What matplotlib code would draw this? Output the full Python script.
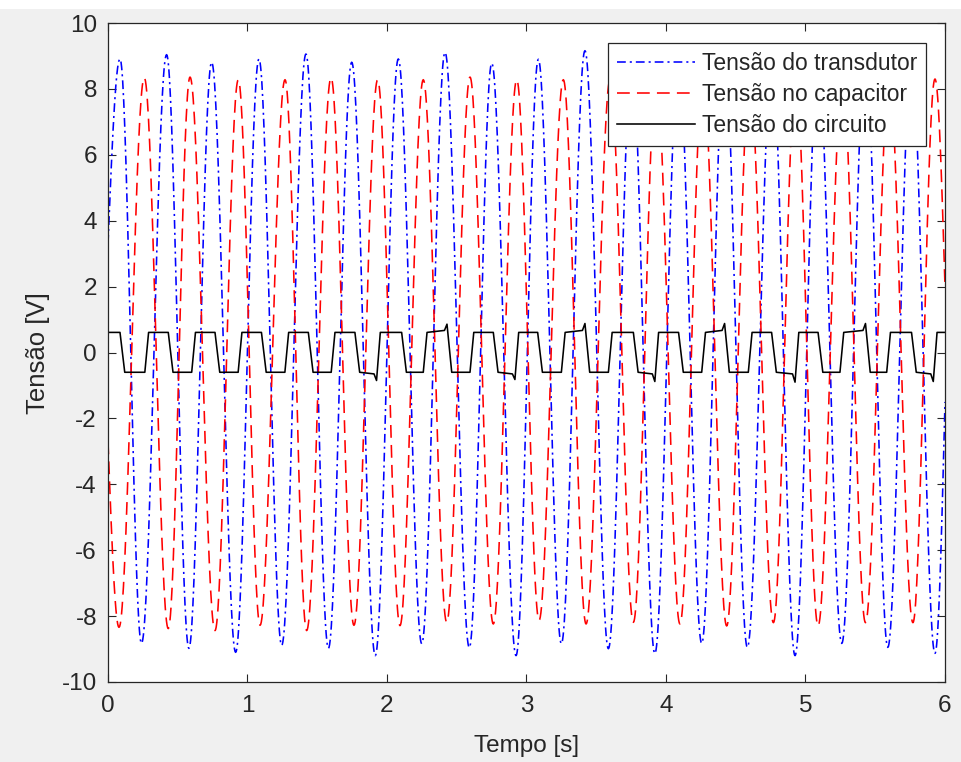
import numpy as np
import matplotlib
matplotlib.use("Agg")
import matplotlib.pyplot as plt
from matplotlib.patches import Rectangle

plt.rcParams['font.family'] = ['Liberation Sans', 'DejaVu Sans']
plt.rcParams['axes.unicode_minus'] = False

# ---------------- data ----------------
series_labels = ["Tensão do transdutor", "Tensão no capacitor", "Tensão do circuito"]

# Transducer voltage: start value, successive peaks/troughs, end value
blue_t = [0.0, 0.086, 0.240, 0.420, 0.580, 0.743, 0.915, 1.082, 1.245, 1.419,
          1.580, 1.747, 1.916, 2.081, 2.249, 2.416, 2.590, 2.751, 2.925, 3.085,
          3.250, 3.419, 3.587, 3.755, 3.920, 4.090, 4.256, 4.420, 4.583, 4.760,
          4.925, 5.090, 5.260, 5.430, 5.590, 5.760, 5.928, 6.0]
blue_v = [3.3, 8.91, -8.83, 9.04, -8.98, 8.81, -9.10, 8.91, -8.89, 9.06,
          -8.98, 8.81, -9.20, 8.91, -8.84, 9.11, -8.96, 8.78, -9.20, 8.90,
          -8.84, 9.16, -8.99, 8.85, -9.14, 8.90, -8.83, 9.10, -8.95, 8.85,
          -9.20, 8.90, -8.83, 9.10, -8.95, 8.85, -9.13, -1.5]

# Capacitor voltage: start value, successive troughs/peaks, end value
red_t = [0.0, 0.079, 0.260, 0.432, 0.588, 0.767, 0.934, 1.090, 1.269, 1.424,
         1.599, 1.763, 1.933, 2.093, 2.260, 2.428, 2.595, 2.762, 2.930, 3.090,
         3.264, 3.427, 3.600, 3.766, 3.930, 4.100, 4.265, 4.435, 4.600, 4.770,
         4.930, 5.090, 5.265, 5.430, 5.600, 5.770, 5.928, 6.0]
red_v = [-2.7, -8.34, 8.34, -8.38, 8.36, -8.44, 8.28, -8.28, 8.28, -8.44,
         8.34, -8.28, 8.28, -8.29, 8.28, -8.19, 8.36, -8.24, 8.28, -8.13,
         8.28, -8.24, 8.30, -8.19, 8.30, -8.24, 8.30, -8.30, 8.30, -8.20,
         8.30, -8.30, 8.30, -8.20, 8.30, -8.20, 8.30, 2.0]

# Circuit voltage: trapezoidal wave levels, edge times and spike values
black_high = 0.61
black_low = -0.60
black_fall_t = [0.086, 0.432, 0.767, 1.100, 1.436, 1.770, 2.105, 2.430, 2.762,
                3.080, 3.419, 3.766, 4.090, 4.420, 4.757, 5.090, 5.430, 5.760]
black_fall_v = [0.61, 0.61, 0.61, 0.61, 0.61, 0.61, 0.61, 0.86, 0.61,
                0.61, 0.88, 0.61, 0.61, 0.88, 0.61, 0.61, 0.88, 0.61]
black_rise_t = [0.264, 0.600, 0.933, 1.268, 1.600, 1.925, 2.260, 2.595, 2.917,
                3.250, 3.587, 3.920, 4.256, 4.590, 4.925, 5.247, 5.582, 5.916]
black_rise_v = [-0.60, -0.60, -0.60, -0.60, -0.60, -0.85, -0.60, -0.60, -0.82,
                -0.60, -0.60, -0.88, -0.60, -0.60, -0.90, -0.60, -0.60, -0.88]
black_t0, black_t1 = 0.0, 6.0

x_ticks = [0, 1, 2, 3, 4, 5, 6]
y_ticks = [-10, -8, -6, -4, -2, 0, 2, 4, 6, 8, 10]


def smooth_extrema(tk, vk, n=40):
    """Draw through the read extrema with half-cosine arcs."""
    ts, vs = [], []
    last = len(tk) - 2
    for i in range(len(tk) - 1):
        f = np.linspace(0, 1, n, endpoint=False)
        if i == 0:
            shape = np.sin(np.pi / 2 * f)
        elif i == last:
            shape = 1 - np.cos(np.pi / 2 * f)
        else:
            shape = (1 - np.cos(np.pi * f)) / 2
        ts.append(tk[i] + (tk[i + 1] - tk[i]) * f)
        vs.append(vk[i] + (vk[i + 1] - vk[i]) * shape)
    ts.append([tk[-1]])
    vs.append([vk[-1]])
    return np.concatenate(ts), np.concatenate(vs)


def black_vertices():
    pts = [(black_t0, black_high)]
    fall_dur, rise_dur = 0.034, 0.027
    for tf, vf, tr, vr in zip(black_fall_t, black_fall_v, black_rise_t, black_rise_v):
        if vf > black_high + 0.05:
            pts.append((tf - 0.018, black_high + 0.06))
        pts.append((tf, vf))
        pts.append((tf + fall_dur, black_low))
        if vr < black_low - 0.05:
            pts.append((tr - 0.018, black_low - 0.05))
        pts.append((tr, vr))
        pts.append((tr + rise_dur, black_high))
    pts.append((black_t1, black_high))
    t, v = zip(*pts)
    return np.array(t), np.array(v)


# ---------------- figure ----------------
W, H = 962, 762
fig = plt.figure(figsize=(W / 100, H / 100), dpi=100, facecolor='white')
fig.patches.append(Rectangle((0, 0), 1, 1 - 9 / H, transform=fig.transFigure,
                             facecolor='#f0f0f0', edgecolor='none', zorder=-10))

ax = fig.add_axes([108 / W, 1 - 682 / H, (945 - 108) / W, (682 - 23) / H])
ax.set_facecolor('white')

bt, bv = smooth_extrema(blue_t, blue_v)
rt, rv = smooth_extrema(red_t, red_v)
kt, kv = black_vertices()

lb, = ax.plot(bt, bv, color='#0000ff', lw=1.15, label=series_labels[0])
lb.set_dashes([5.5, 2.5, 1.3, 2.5])
lr, = ax.plot(rt, rv, color='#ff0000', lw=1.15, label=series_labels[1])
lr.set_dashes([8.0, 4.5])
lk, = ax.plot(kt, kv, color='black', lw=1.15, label=series_labels[2])

ax.set_xlim(0, 6)
ax.set_ylim(-10, 10)
ax.set_xticks(x_ticks)
ax.set_yticks(y_ticks)
ax.set_xticklabels([str(v) for v in x_ticks])
ax.set_yticklabels([str(v) for v in y_ticks])
ax.tick_params(axis='both', direction='in', length=6, width=0.8, top=True, right=True,
               labelsize=17.5, colors='#262626')
ax.tick_params(axis='x', pad=9)
ax.tick_params(axis='y', pad=8)
for s in ax.spines.values():
    s.set_color('#262626')
    s.set_linewidth(0.9)

fig.text(526.5 / W, 1 - 746 / H, 'Tempo [s]', ha='center', va='center',
         fontsize=17.5, color='#262626')
fig.text(38 / W, 1 - 353 / H, 'Tensão [V]', ha='center', va='center',
         rotation=90, fontsize=18.5, color='#262626')

leg = ax.legend(loc='upper right', bbox_to_anchor=(926 / W, 1 - 43 / H),
                bbox_transform=fig.transFigure, fontsize=16.5, frameon=True,
                fancybox=False, framealpha=1, edgecolor='#262626', borderaxespad=0,
                handlelength=3.4, handletextpad=0.3, labelspacing=0.36, borderpad=0.38)
leg.get_frame().set_linewidth(0.9)
for t in leg.get_texts():
    t.set_color('#262626')

fig.savefig('out.png', dpi=100, facecolor=fig.get_facecolor())
